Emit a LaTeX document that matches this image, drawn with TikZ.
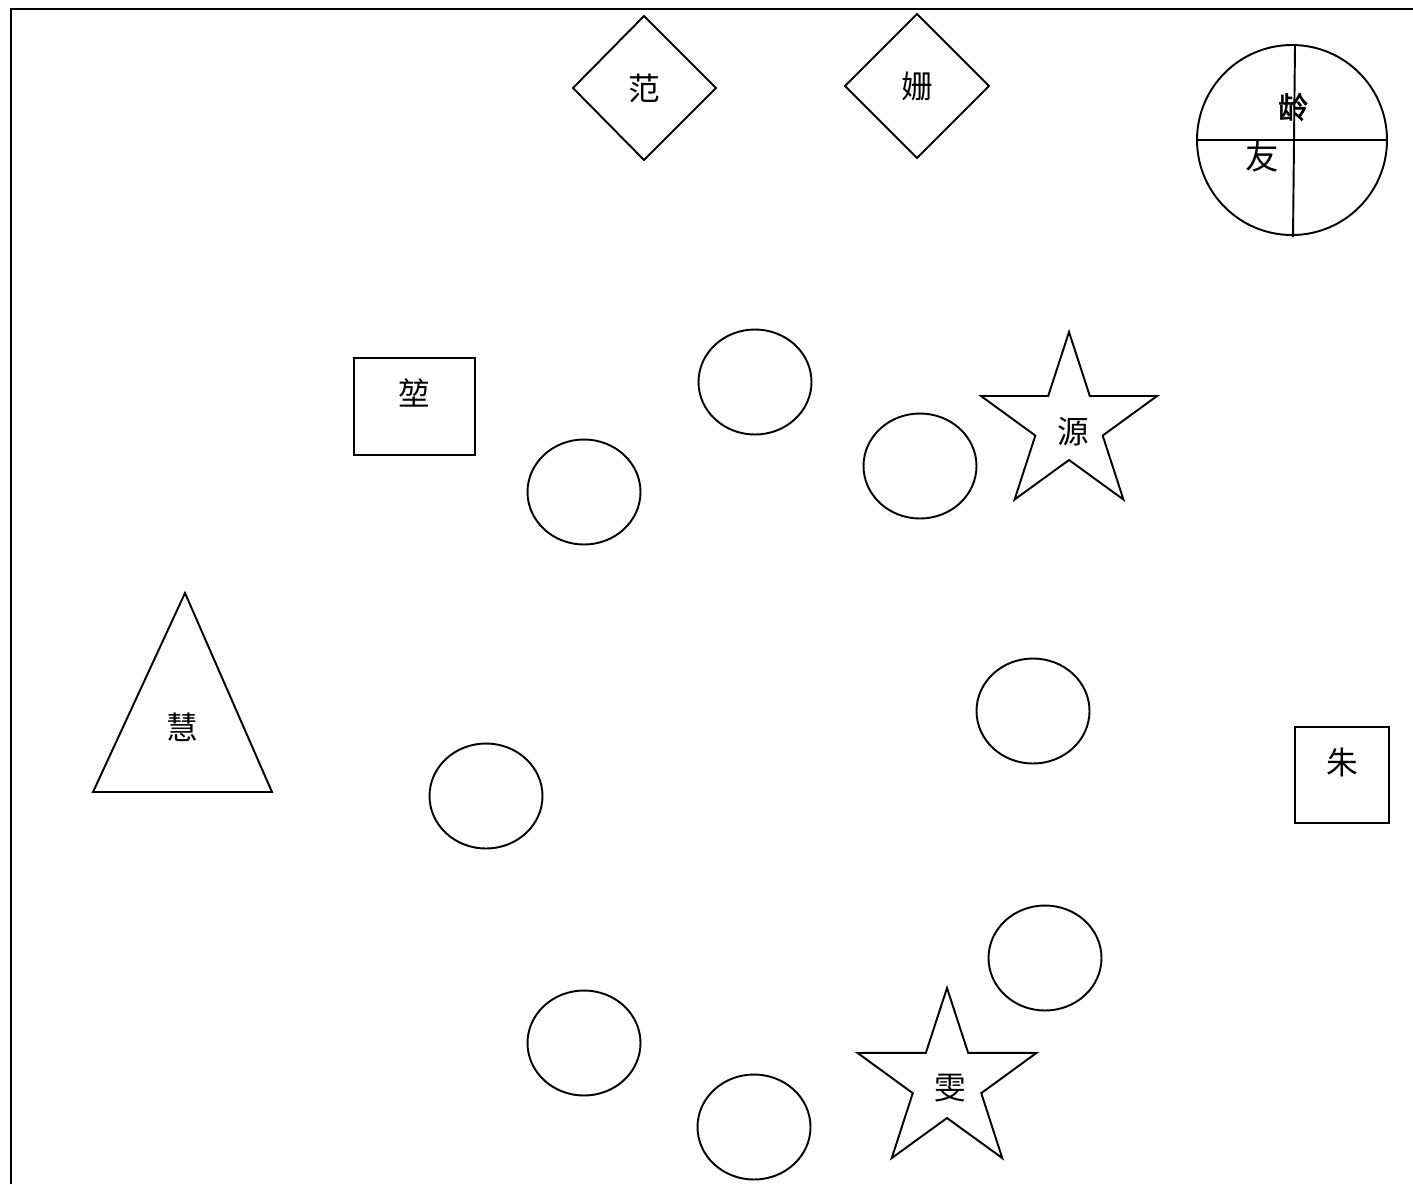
\documentclass[tikz,border=0pt]{standalone}
\usepackage{fontspec}
\newfontfamily\cjk{Noto Sans CJK SC}
\newfontfamily\cjkfett[FakeBold=2]{Noto Sans CJK SC}
\usepackage{tikz}

\tikzset{
  umriss/.style={line width=1.1pt},
  beschr/.style={font=\cjk\fontsize{18}{20}\selectfont, inner sep=0pt}
}

\begin{document}
\begin{tikzpicture}[x=0.02cm, y=-0.02cm]
    \useasboundingbox (0,0) rectangle (1413,1184);
    % Rahmen:
    \draw[line width=1.7pt] (11,1184) -- (11,9) -- (1413,9); % links und oben
    % Rauten oben:
    \draw[umriss] (644,16) -- (716,88) -- (644,160) -- (573,88) -- cycle; % erste Raute
    \draw[umriss] (917,14) -- (989,86) -- (917,158) -- (845,86) -- cycle; % zweite Raute
    \node[beschr] (fan) at (644,88) {范};
    \node[beschr] (shan) at (917,86) {姗};
    % Kreis mit Kreuz:
    \draw[umriss] (1292,140) circle [radius=95];
    \draw[umriss] (1197,140) -- (1387,140); % waagrecht
    \draw[umriss] (1295,45) -- (1293,237); % senkrecht
    \node[beschr, font=\cjkfett\fontsize{17}{20}\selectfont] (ling) at (1293,107) {龄};
    \node[beschr, font=\cjk\fontsize{19}{20}\selectfont] (you) at (1262,157) {友};
    % Rechtecke:
    \draw[umriss] (354,358) rectangle (475,455);
    \node[beschr] (kun) at (414,393) {堃};
    \draw[umriss] (1295,727) rectangle (1389,823);
    \node[beschr] (zhu) at (1342,762) {朱};
    % Dreieck:
    \draw[umriss] (185,593) -- (272,792) -- (93,792) -- cycle;
    \node[beschr] (hui) at (182,727) {慧};
    % Sterne:
    \draw[umriss] (1069,424.6) +(-90:92.6)
      \foreach \k in {1,...,9} { -- +({-90+36*\k}:{mod(\k,2)==1 ? 35.4 : 92.6}) } -- cycle;
    \node[beschr] (yuan) at (1073,432) {源};
    \draw[umriss] (947,1082) +(-90:94)
      \foreach \k in {1,...,9} { -- +({-90+36*\k}:{mod(\k,2)==1 ? 36 : 94}) } -- cycle;
    \node[beschr] (wen) at (950,1088) {雯};
    % Ellipsen ohne Text:
    \foreach \ex/\ey in {755/382, 584/492, 920/466, 1033/711, 486/796, 1045/958, 584/1043, 754/1127}
      \draw[umriss] (\ex,\ey) ellipse [x radius=56.5, y radius=52.5];
\end{tikzpicture}
\end{document}
